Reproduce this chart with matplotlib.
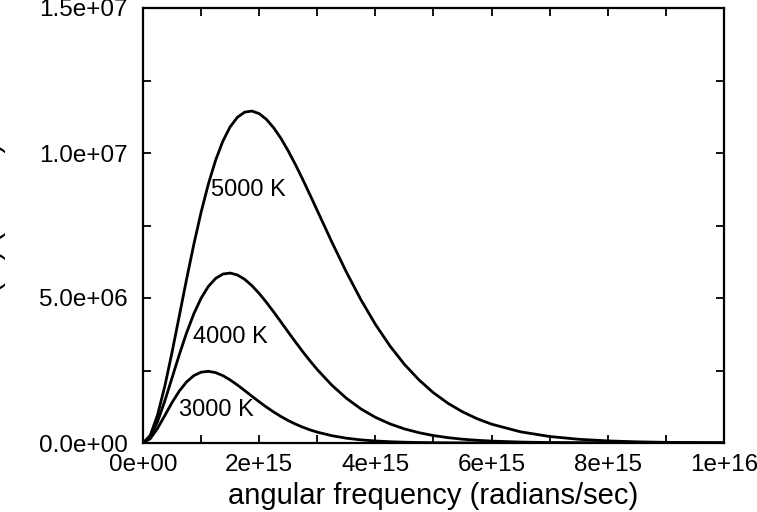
import matplotlib
matplotlib.use("Agg")
import matplotlib.pyplot as plt
from matplotlib.ticker import MultipleLocator, FuncFormatter

plt.rcParams['font.family'] = ['Liberation Sans', 'DejaVu Sans']

# angular frequency samples (units of 1e15 rad/s)
omega = [0, 0.125, 0.25, 0.375, 0.5, 0.625, 0.75, 0.875, 1.0, 1.125, 1.25,
         1.375, 1.5, 1.625, 1.75, 1.875, 2.0, 2.125, 2.25, 2.375, 2.5, 2.625,
         2.75, 2.875, 3.0, 3.25, 3.5, 3.75, 4.0, 4.25, 4.5, 4.75, 5.0, 5.25,
         5.5, 5.75, 6.0, 6.5, 7.0, 7.5, 8.0, 8.5, 9.0, 9.5, 10.0]

# energy density (units of 1e6)
u_5000 = [0, 0.266, 0.964, 1.957, 3.129, 4.385, 5.647, 6.852, 7.958, 8.931,
          9.753, 10.410, 10.902, 11.232, 11.409, 11.446, 11.358, 11.160,
          10.866, 10.502, 10.069, 9.595, 9.086, 8.555, 8.013, 6.931, 5.897,
          4.943, 4.091, 3.347, 2.711, 2.176, 1.731, 1.369, 1.074, 0.838,
          0.649, 0.385, 0.224, 0.128, 0.0726, 0.0406, 0.0224, 0.0123, 0.0067]
u_4000 = [0, 0.208, 0.733, 1.447, 2.246, 3.049, 3.799, 4.456, 4.994, 5.400,
          5.675, 5.826, 5.860, 5.794, 5.644, 5.426, 5.155, 4.849, 4.516,
          4.172, 3.824, 3.481, 3.148, 2.831, 2.531, 1.994, 1.544, 1.177,
          0.886, 0.660, 0.486, 0.355, 0.256, 0.184, 0.131, 0.0932, 0.0657,
          0.0322, 0.0155, 0.0073, 0.0034, 0.0016, 0.0007, 0.0003, 0.0001]
u_3000 = [0, 0.150, 0.504, 0.947, 1.395, 1.793, 2.107, 2.324, 2.442, 2.473,
          2.427, 2.323, 2.175, 2.000, 1.809, 1.613, 1.421, 1.238, 1.068,
          0.913, 0.774, 0.652, 0.545, 0.453, 0.374, 0.252, 0.166, 0.108,
          0.0696, 0.0442, 0.0277, 0.0173, 0.0106, 0.0065, 0.0040, 0.0024,
          0.0014, 0.0005, 0.0002, 0, 0, 0, 0, 0, 0]

labels = ['5000 K', '4000 K', '3000 K']
label_pos = [(1.17, 8.72), (0.86, 3.66), (0.62, 1.14)]

fig = plt.figure(figsize=(7.57, 5.12), dpi=100)
ax = fig.add_axes([143 / 757, 1 - 443 / 512, (724 - 143) / 757, (443 - 8) / 512])

x = [w * 1e15 for w in omega]
for series in (u_5000, u_4000, u_3000):
    ax.plot(x, [v * 1e6 for v in series], color='black', lw=2,
            solid_joinstyle='round')

for txt, (lx, ly) in zip(labels, label_pos):
    ax.text(lx * 1e15, ly * 1e6, txt, fontsize=17, ha='left', va='center')

ax.set_xlim(0, 1e16)
ax.set_ylim(0, 1.5e7)
ax.xaxis.set_major_locator(MultipleLocator(2e15))
ax.xaxis.set_minor_locator(MultipleLocator(1e15))
ax.yaxis.set_major_locator(MultipleLocator(5e6))
ax.yaxis.set_minor_locator(MultipleLocator(2.5e6))
ax.xaxis.set_major_formatter(FuncFormatter(lambda v, p: '{:.0e}'.format(v)))
ax.yaxis.set_major_formatter(FuncFormatter(lambda v, p: '{:.1e}'.format(v)))

ax.tick_params(which='both', direction='in', top=True, right=True,
               length=6, width=1.3, labelsize=17.5)
ax.tick_params(axis='y', pad=11)
ax.tick_params(axis='x', pad=8)
for s in ax.spines.values():
    s.set_linewidth(1.6)

ax.set_xlabel('angular frequency (radians/sec)', fontsize=21, labelpad=4)
# y label is mostly outside the canvas, as in the original
fig.text(6 / 757, 0.56, 'u(ω) (J s/m³)', rotation=90, fontsize=21,
         ha='right', va='center')

fig.savefig('out.png', dpi=100)
